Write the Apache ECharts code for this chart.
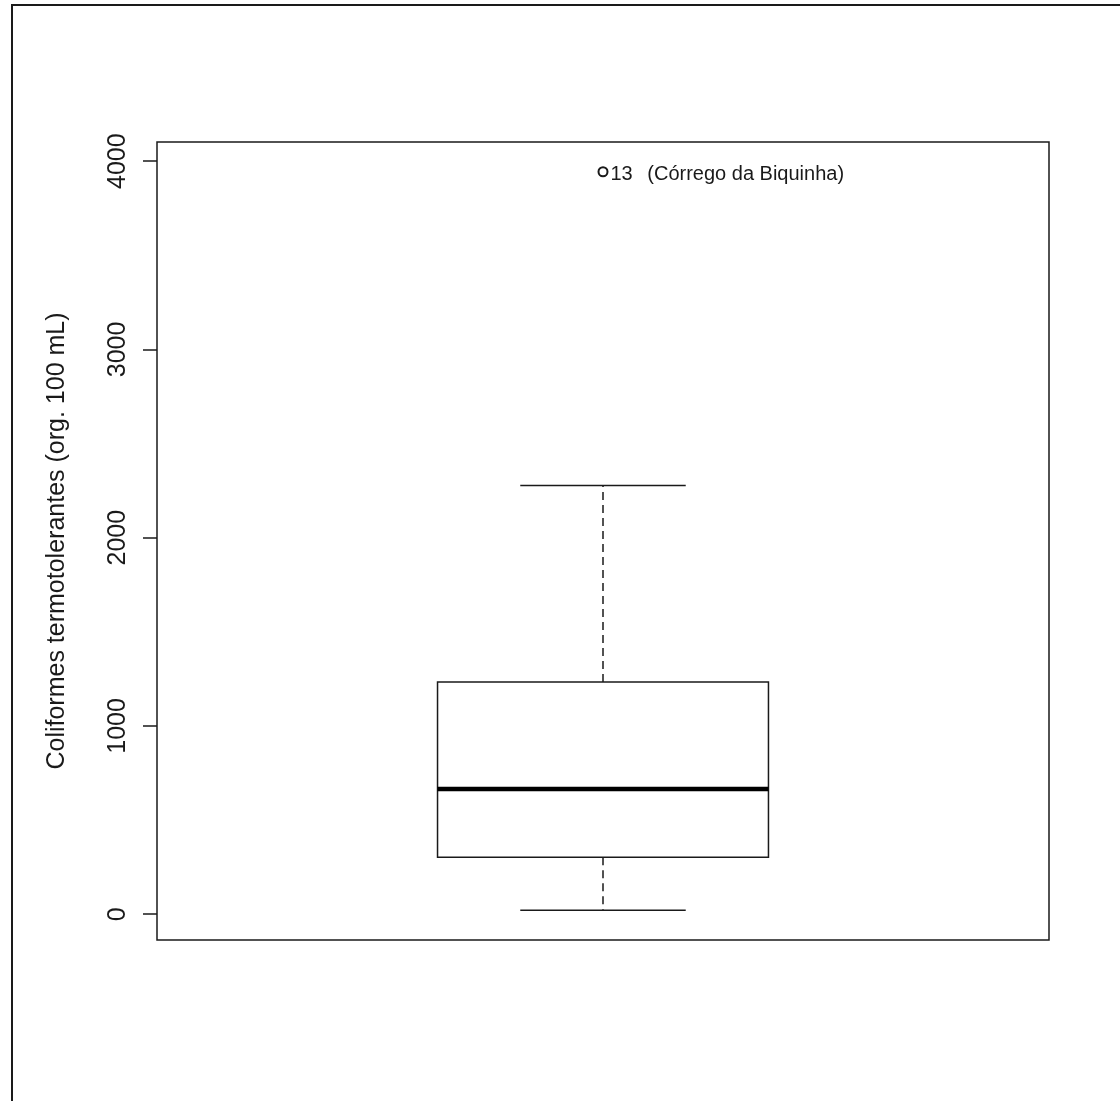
<!DOCTYPE html>
<html>
<head>
<meta charset="utf-8">
<title>Coliformes termotolerantes</title>
<script src="https://cdn.jsdelivr.net/npm/echarts@6/dist/echarts.min.js"></script>
<style>
  html, body { margin: 0; padding: 0; background: #fff; }
  #chart { width: 1120px; height: 1101px; }
</style>
</head>
<body>
<div id="chart"></div>
<script>
  // dados
  const categories = ['Coliformes']
  // [minimo, Q1, mediana, Q3, maximo]
  const boxStats = [21, 303, 665, 1234, 2277]
  const outlierIds = ['13']
  const outlierNames = ['Córrego da Biquinha']
  const outlierValues = [3944]
  const yTicks = [0, 1000, 2000, 3000, 4000]
  const yTitle = 'Coliformes termotolerantes (org. 100 mL)'

  const font = "'Liberation Sans', Arial, sans-serif"
  const ink = '#1a1a1a'

  let chart = echarts.init(document.getElementById('chart'))

  function renderBox(params, api) {
    const x = api.value(0)
    const low = api.coord([x, api.value(1)])
    const q1 = api.coord([x, api.value(2)])
    const med = api.coord([x, api.value(3)])
    const q3 = api.coord([x, api.value(4)])
    const high = api.coord([x, api.value(5)])
    const band = api.size([1, 0])[0]
    const half = band * 0.1855
    const capHalf = half / 2
    const cx = med[0]
    const solid = { stroke: ink, lineWidth: 1.5, fill: null }
    const dashed = { stroke: ink, lineWidth: 1.5, lineDash: [8, 5], fill: null }
    return {
      type: 'group',
      children: [
        { type: 'line', shape: { x1: cx, y1: q3[1], x2: cx, y2: high[1] }, style: dashed },
        { type: 'line', shape: { x1: cx, y1: q1[1], x2: cx, y2: low[1] }, style: dashed },
        { type: 'line', shape: { x1: cx - capHalf, y1: high[1], x2: cx + capHalf, y2: high[1] }, style: solid },
        { type: 'line', shape: { x1: cx - capHalf, y1: low[1], x2: cx + capHalf, y2: low[1] }, style: solid },
        {
          type: 'rect',
          shape: { x: cx - half, y: q3[1], width: half * 2, height: q1[1] - q3[1] },
          style: solid,
        },
        {
          type: 'line',
          shape: { x1: cx - half, y1: med[1], x2: cx + half, y2: med[1] },
          style: { stroke: '#000', lineWidth: 4.5 },
        },
      ],
    }
  }

  chart.setOption({
    animation: false,
    backgroundColor: '#fff',
    textStyle: { fontFamily: font },
    graphic: [
      {
        // moldura externa (so topo e esquerda aparecem)
        type: 'polyline',
        shape: { points: [[12, 1101], [12, 5], [1120, 5]] },
        style: { stroke: ink, lineWidth: 2, fill: null },
      },
    ],
    grid: {
      left: 157,
      right: 71,
      top: 142,
      bottom: 161,
      show: true,
      borderColor: ink,
      borderWidth: 1.5,
      backgroundColor: 'transparent',
    },
    xAxis: {
      type: 'category',
      data: categories,
      axisLine: { show: false },
      axisTick: { show: false },
      axisLabel: { show: false },
      splitLine: { show: false },
    },
    yAxis: {
      type: 'value',
      min: -137,
      max: 4102,
      name: yTitle,
      nameLocation: 'middle',
      nameGap: 87,
      nameTextStyle: { fontSize: 25, color: ink, fontFamily: font },
      axisLine: { show: false },
      splitLine: { show: false },
      axisTick: {
        show: true,
        length: 14,
        customValues: yTicks,
        lineStyle: { color: ink, width: 1.5 },
      },
      axisLabel: {
        customValues: yTicks,
        rotate: 90,
        margin: 26,
        fontSize: 25,
        color: ink,
        fontFamily: font,
        formatter: (v) => String(v),
      },
    },
    series: [
      {
        type: 'custom',
        renderItem: renderBox,
        encode: { x: 0, y: [1, 2, 3, 4, 5] },
        data: [[0].concat(boxStats)],
        z: 3,
      },
      {
        type: 'scatter',
        symbol: 'emptyCircle',
        symbolSize: 9,
        itemStyle: { color: ink, borderColor: ink, borderWidth: 1.3, opacity: 1 },
        data: outlierValues.map((v, i) => ({
          value: [0, v],
          id13: outlierIds[i],
          nome: outlierNames[i],
        })),
        label: {
          show: true,
          position: 'right',
          distance: 2,
          offset: [0, 3],
          color: ink,
          fontFamily: font,
          fontSize: 20,
          formatter: (p) => '{n|' + p.data.id13 + '} {t|(' + p.data.nome + ')}',
          rich: {
            n: { fontSize: 20, fontFamily: font, color: ink, padding: [0, 9, 0, 0] },
            t: { fontSize: 20, fontFamily: font, color: ink },
          },
        },
        z: 4,
      },
    ],
  })

  window.onresize = function () {
    chart.resize()
  }
</script>
</body>
</html>
